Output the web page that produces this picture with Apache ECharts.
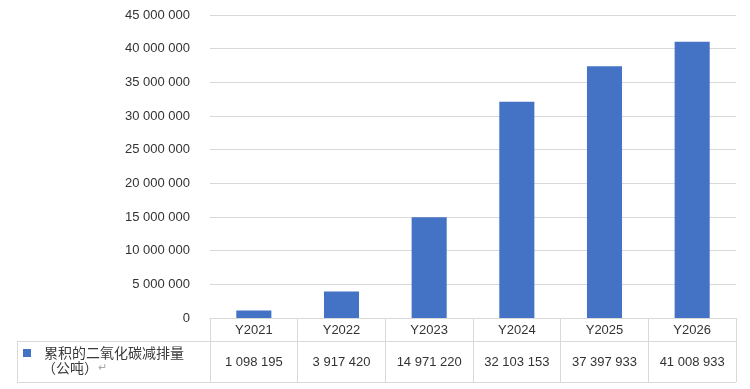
<!DOCTYPE html>
<html>
<head>
<meta charset="utf-8">
<script src="https://cdn.jsdelivr.net/npm/echarts@6/dist/echarts.min.js"></script>
<style>
html,body{margin:0;padding:0;background:#fff;}
#chart{width:750px;height:389px;}
</style>
</head>
<body>
<div id="chart"></div>
<script>
const categories = ['Y2021', 'Y2022', 'Y2023', 'Y2024', 'Y2025', 'Y2026'];
const values = [1098195, 3917420, 14971220, 32103153, 37397933, 41008933];
const seriesName = '累积的二氧化碳减排量（公吨）';
const yTicks = { min: 0, max: 45000000, interval: 5000000 };

function fmt(n) {
  return String(Math.round(n)).replace(/\B(?=(\d{3})+(?!\d))/g, ' ');
}

const latin = 'Liberation Sans, Arial, sans-serif';
const cjk = 'Noto Sans CJK SC, sans-serif';
const lineCol = '#d9d9d9';
const textCol = '#333333';

const chart = echarts.init(document.getElementById('chart'));
chart.setOption({
  animation: false,
  grid: { left: 210, right: 14, top: 15, bottom: 71, containLabel: false },
  legend: {
    left: 23, top: 346, padding: 0,
    icon: 'rect', itemWidth: 8, itemHeight: 8,
    data: [seriesName],
    formatter: () => '累积的二氧化碳减排量',
    textStyle: { fontFamily: cjk, fontSize: 14, color: '#3a3a3a', padding: [0, 0, 0, 8] }
  },
  xAxis: [
    {
      type: 'category', data: categories, position: 'bottom',
      axisLine: { show: true, lineStyle: { color: lineCol, width: 1 } },
      axisTick: { show: true, length: 64, lineStyle: { color: lineCol, width: 1 } },
      axisLabel: { margin: 6, fontFamily: latin, fontSize: 13, color: textCol }
    },
    {
      type: 'category', data: categories, position: 'bottom', offset: 23,
      axisLine: { show: false }, axisTick: { show: false },
      axisLabel: {
        margin: 15, fontFamily: latin, fontSize: 13, color: textCol,
        formatter: (v, i) => fmt(values[i])
      }
    }
  ],
  yAxis: {
    type: 'value', min: yTicks.min, max: yTicks.max, interval: yTicks.interval,
    axisLine: { show: false }, axisTick: { show: false },
    splitLine: { lineStyle: { color: lineCol, width: 1 } },
    axisLabel: { margin: 20, fontFamily: latin, fontSize: 13, color: textCol, formatter: v => fmt(v) }
  },
  series: [{
    name: seriesName, type: 'bar', data: values, barWidth: '40%',
    itemStyle: { color: '#4472C4' }
  }],
  graphic: [
    { type: 'line', shape: { x1: 17, y1: 341.5, x2: 736, y2: 341.5 }, style: { stroke: lineCol, lineWidth: 1 } },
    { type: 'line', shape: { x1: 17, y1: 382.5, x2: 736, y2: 382.5 }, style: { stroke: lineCol, lineWidth: 1 } },
    { type: 'line', shape: { x1: 17.5, y1: 341, x2: 17.5, y2: 383 }, style: { stroke: lineCol, lineWidth: 1 } },
    {
      type: 'text', left: 42, top: 361,
      style: {
        text: '{a|（公吨）}{b|↵}',
        rich: {
          a: { fontFamily: cjk, fontSize: 14, fill: '#3a3a3a' },
          b: { fontFamily: latin, fontSize: 11, fill: '#aaaaaa' }
        }
      }
    }
  ]
});
</script>
</body>
</html>
